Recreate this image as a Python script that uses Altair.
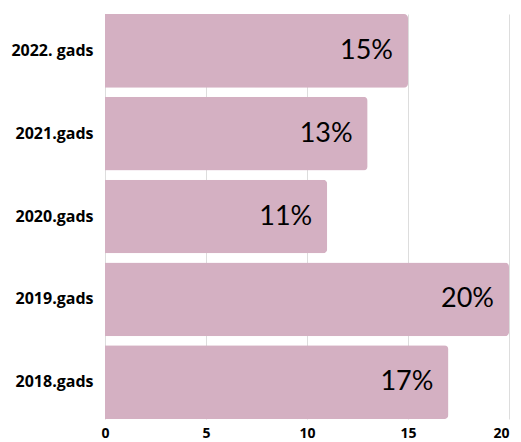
import altair as alt
import pandas as pd

years = ["2022. gads", "2021.gads", "2020.gads", "2019.gads", "2018.gads"]
values = [15, 13, 11, 20, 17]
labels = ["15%", "13%", "11%", "20%", "17%"]

df = pd.DataFrame({"year": years, "value": values, "label": labels})

y_enc = alt.Y("year:N", sort=years, title=None,
              scale=alt.Scale(paddingInner=0.11, paddingOuter=0.0),
              axis=alt.Axis(labelFont="Open Sans", labelFontWeight="bold", labelFontSize=16,
                            labelColor="#000", labelPadding=12, ticks=False, domain=False, grid=False))
x_enc = alt.X("value:Q", title=None, scale=alt.Scale(domain=[0, 20], nice=False),
              axis=alt.Axis(values=[0, 5, 10, 15, 20], labelFont="Open Sans", labelFontWeight="bold",
                            labelFontSize=14, labelColor="#000", labelPadding=7, ticks=False,
                            domain=False, grid=True, gridColor="#dddddd", labelFlush=False,
                            labelAlign=alt.ExprRef("datum.value === 20 ? 'right' : 'center'")))

bars = alt.Chart(df).mark_bar(color="#d4b0c2", cornerRadiusTopRight=4, cornerRadiusBottomRight=4).encode(
    x=x_enc, y=y_enc)

text = alt.Chart(df).mark_text(align="right", baseline="middle", dx=-15, font="Lato",
                               fontSize=27, color="#000").encode(
    x="value:Q", y=alt.Y("year:N", sort=years), text="label:N")

chart = (bars + text).properties(
    width=404, height=405,
    autosize=alt.AutoSizeParams(type="none"),
    padding={"left": 97, "top": 6, "right": 4, "bottom": 22},
).configure_view(stroke=None)

chart.save("out.html", embed_options={"renderer": "svg", "actions": False})
